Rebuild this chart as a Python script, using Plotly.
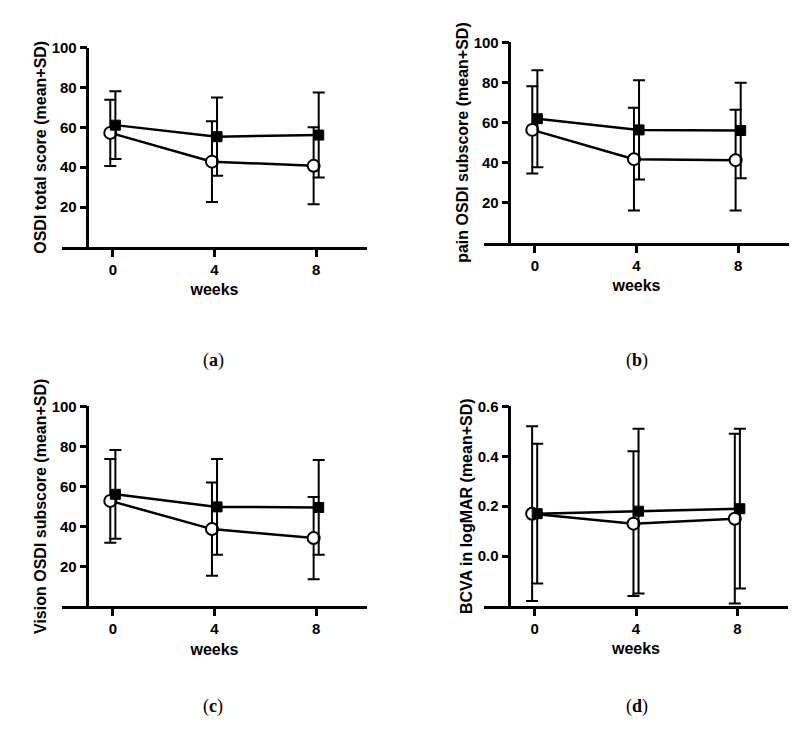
import plotly.graph_objects as go

# ---- data ----
weeks = [0, 4, 8]

# (a) OSDI total score
a_circle_mean = [57.2, 42.8, 40.7]
a_circle_sd = [16.6, 20.2, 19.3]
a_square_mean = [61.1, 55.3, 56.1]
a_square_sd = [17.0, 19.6, 21.3]

# (b) pain OSDI subscore
b_circle_mean = [56.3, 41.7, 41.2]
b_circle_sd = [21.8, 25.6, 25.1]
b_square_mean = [61.9, 56.3, 56.0]
b_square_sd = [24.2, 24.7, 23.8]

# (c) Vision OSDI subscore
c_circle_mean = [52.7, 38.6, 34.1]
c_circle_sd = [20.9, 23.3, 20.6]
c_square_mean = [56.0, 49.7, 49.4]
c_square_sd = [22.2, 23.9, 23.7]

# (d) BCVA in logMAR
d_circle_mean = [0.17, 0.13, 0.15]
d_circle_sd = [0.35, 0.29, 0.34]
d_square_mean = [0.17, 0.18, 0.19]
d_square_sd = [0.28, 0.33, 0.32]

y_titles = ["OSDI total score (mean+SD)", "pain OSDI subscore (mean+SD)",
            "Vision OSDI subscore (mean+SD)", "BCVA in logMAR (mean+SD)"]
x_title = "weeks"
captions = ["a", "b", "c", "d"]
x_ticks = [0, 4, 8]
pct_ticks = [20, 40, 60, 80, 100]
logmar_ticks = [0.0, 0.2, 0.4, 0.6]
logmar_ticktext = ["0.0", "0.2", "0.4", "0.6"]

panels = [
    (a_circle_mean, a_circle_sd, a_square_mean, a_square_sd),
    (b_circle_mean, b_circle_sd, b_square_mean, b_square_sd),
    (c_circle_mean, c_circle_sd, c_square_mean, c_square_sd),
    (d_circle_mean, d_circle_sd, d_square_mean, d_square_sd),
]

# ---- layout geometry (paper fractions) ----
W, H = 799, 730
xdoms = [(62 / W, 367 / W), (484 / W, 789 / W), (62 / W, 367 / W), (484 / W, 788 / W)]
ydoms = [(1 - 241 / H, 1 - 39 / H), (1 - 236.7 / H, 1 - 33.7 / H),
         (1 - 604.7 / H, 1 - 402.3 / H), (1 - 604.5 / H, 1 - 402.3 / H)]
cap_pos = [(213 / W, 1 - 355.5 / H), (637 / W, 1 - 355.5 / H),
           (213 / W, 1 - 706.5 / H), (637 / W, 1 - 706.5 / H)]

XR = [-2, 10]
OFF = 0.1
FONT = "Liberation Sans, Arial, sans-serif"

fig = go.Figure()

for i, (cm, cs, sm, ss) in enumerate(panels):
    k = "" if i == 0 else str(i + 1)
    xa, ya = "x" + k, "y" + k
    fig.add_trace(go.Scatter(
        x=[w - OFF for w in weeks], y=cm, xaxis=xa, yaxis=ya,
        mode="lines+markers",
        line=dict(color="black", width=2.5),
        marker=dict(symbol="circle", size=12, color="white",
                    line=dict(color="black", width=2)),
        error_y=dict(type="data", array=cs, visible=True, color="black",
                     thickness=2, width=6),
        showlegend=False, cliponaxis=False,
    ))
    fig.add_trace(go.Scatter(
        x=[w + OFF for w in weeks], y=sm, xaxis=xa, yaxis=ya,
        mode="lines+markers",
        line=dict(color="black", width=2.5),
        marker=dict(symbol="square", size=10, color="black",
                    line=dict(color="black", width=1)),
        error_y=dict(type="data", array=ss, visible=True, color="black",
                     thickness=2, width=6),
        showlegend=False,
    ))

    x0, x1 = xdoms[i]
    axis_common = dict(showline=True, linecolor="black", linewidth=2.5,
                       ticks="outside", ticklen=7, tickwidth=2.5, tickcolor="black",
                       showgrid=False, zeroline=False,
                       tickfont=dict(family=FONT, size=15, color="black", weight="bold"))
    fig.layout["xaxis" + k] = dict(
        domain=list(xdoms[i]), range=XR, anchor=ya,
        tickvals=x_ticks, ticktext=[str(t) for t in x_ticks],
        title=dict(text=x_title, standoff=8,
                   font=dict(family=FONT, size=16, color="black", weight="bold")),
        **axis_common)
    if i == 3:
        yr, tv, tt = [-0.2, 0.6], logmar_ticks, logmar_ticktext
    else:
        yr, tv, tt = [0, 100], pct_ticks, [str(t) for t in pct_ticks]
    fig.layout["yaxis" + k] = dict(
        domain=list(ydoms[i]), range=yr, anchor="free",
        position=x0 + (x1 - x0) / 12.0,
        tickvals=tv, ticktext=tt,
        title=dict(text=y_titles[i], standoff=0,
                   font=dict(family=FONT, size=16, color="black", weight="bold")),
        **axis_common)

    fig.add_annotation(
        x=cap_pos[i][0], y=cap_pos[i][1], xref="paper", yref="paper",
        text="(<b>" + captions[i] + "</b>)", showarrow=False,
        font=dict(family="Liberation Serif, Times New Roman, serif", size=18, color="black"),
        xanchor="center", yanchor="middle")

fig.update_layout(width=W, height=H, margin=dict(l=0, r=0, t=0, b=0),
                  paper_bgcolor="white", plot_bgcolor="white", showlegend=False)

fig.write_html("out.html", config={"displayModeBar": False},
               post_script="document.body.style.margin='0';document.body.style.overflow='hidden';")
